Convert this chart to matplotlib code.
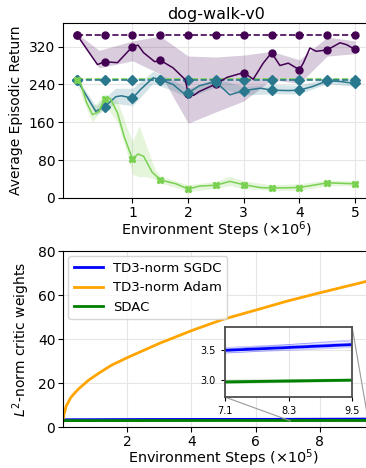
import numpy as np
import matplotlib
matplotlib.use('Agg')
import matplotlib.pyplot as plt
from mpl_toolkits.axes_grid1.inset_locator import mark_inset

# ---- top panel: dog-walk-v0 ----
purple_x = [0, 0.37, 0.5, 0.73, 1.0, 1.1, 1.2, 1.4, 1.5, 1.73, 1.95, 2.0, 2.1, 2.2, 2.5, 2.7, 3.0,
            3.17, 3.35, 3.5, 3.65, 3.8, 4.0, 4.07, 4.19, 4.3, 4.5, 4.73, 4.85, 5.0]
purple_y = [345, 282, 288, 286, 320, 323, 307, 288, 291, 275, 250, 220, 217, 225, 241, 255, 265,
            251, 285, 307, 280, 285, 271, 285, 317, 310, 313, 328, 324, 314]
purple_bx = [0, 0.4, 1.0, 1.5, 2.0, 2.5, 3.0, 3.5, 4.0, 4.5, 5.0]
purple_hi = [348, 312, 332, 342, 300, 298, 302, 310, 292, 340, 332]
purple_lo = [342, 275, 290, 262, 158, 182, 205, 250, 242, 300, 305]

teal_x = [0, 0.34, 0.5, 0.7, 0.8, 1.0, 1.15, 1.37, 1.5, 1.73, 1.9, 2.0, 2.2, 2.45, 2.5, 2.75,
          3.0, 3.3, 3.5, 3.8, 4.0, 4.25, 4.5, 4.75, 5.0]
teal_y = [250, 183, 193, 214, 216, 211, 230, 254, 250, 240, 223, 222, 237, 245, 245, 218,
          227, 232, 228, 227, 228, 236, 248, 246, 242]
teal_bx = [0, 0.34, 0.7, 1.0, 1.37, 1.7, 2.0, 2.5, 3.0, 3.5, 4.0, 4.5, 5.0]
teal_hi = [253, 195, 232, 232, 268, 250, 232, 252, 236, 240, 238, 254, 250]
teal_lo = [247, 175, 200, 195, 242, 228, 212, 235, 218, 220, 220, 242, 236]

green_x = [0, 0.06, 0.17, 0.28, 0.4, 0.5, 0.6, 0.73, 0.85, 1.0, 1.1, 1.2, 1.35, 1.5, 1.78,
           2.0, 2.2, 2.5, 2.75, 3.0, 3.3, 3.5, 4.0, 4.25, 4.5, 5.0]
green_y = [250, 246, 203, 176, 183, 210, 210, 180, 130, 82, 93, 88, 55, 38, 30,
           19, 25, 27, 35, 28, 22, 21, 22, 27, 32, 30]
green_bx = [0, 0.17, 0.28, 0.5, 0.73, 0.9, 1.0, 1.12, 1.25, 1.4, 1.5, 2.0, 2.5, 2.75, 3.0, 3.5, 4.0, 4.5, 5.0]
green_hi = [262, 218, 192, 220, 205, 150, 120, 152, 110, 62, 46, 28, 35, 46, 36, 28, 30, 38, 36]
green_lo = [240, 190, 160, 198, 160, 95, 50, 45, 45, 40, 32, 14, 20, 26, 20, 16, 16, 26, 26]

mark_x = [0, 0.5, 1, 1.5, 2, 2.5, 3, 3.5, 4, 4.5, 5]
purple_ref = 345
teal_ref = 250
green_ref = 252

# ---- bottom panel: critic weight norms ----
adam_x = [0, 0.03, 0.1, 0.24, 0.35, 0.5, 0.8, 1.12, 1.5, 2.0, 3.0, 4.04, 5.0, 6.02, 7.0, 8.0, 9.4, 10.0]
adam_y = [2.5, 5.5, 9.5, 13.3, 15.2, 17.5, 21.3, 24.5, 28.0, 31.5, 38.0, 44.0, 49.0, 53.2, 57.3, 61.0, 66.0, 68.0]
steps = [0, 2.0, 4.0, 7.1, 8.3, 9.5, 10.0]
sgdc_mean = [3.3, 3.4, 3.45, 3.5, 3.55, 3.6, 3.61]
sdac_mean = [2.9, 2.92, 2.94, 2.96, 2.975, 2.99, 2.99]
sgdc_runs = [[3.3, 3.4, 3.46, 3.55, 3.6, 3.66, 3.67],
             [3.3, 3.38, 3.43, 3.46, 3.5, 3.55, 3.56],
             [3.3, 3.42, 3.48, 3.53, 3.58, 3.63, 3.64],
             [3.3, 3.37, 3.42, 3.45, 3.52, 3.57, 3.58],
             [3.3, 3.41, 3.47, 3.52, 3.6, 3.68, 3.69]]
sdac_runs = [[2.9, 2.93, 2.96, 2.99, 3.0, 3.01, 3.01],
             [2.9, 2.91, 2.92, 2.93, 2.95, 2.97, 2.97],
             [2.9, 2.92, 2.95, 2.97, 2.99, 3.0, 3.0],
             [2.9, 2.91, 2.93, 2.94, 2.96, 2.98, 2.98]]

c_purple = '#440154'
c_teal = '#2a788e'
c_green = '#7ad151'

plt.rcParams['font.family'] = ['DejaVu Sans']
fig = plt.figure(figsize=(3.66, 4.68), dpi=100)

ax1 = fig.add_axes([0.172, 0.577, 0.836, 0.374])
ax1.grid(color='#e6e6e6', lw=0.8)
ax1.set_axisbelow(True)
ax1.fill_between(purple_bx, purple_lo, purple_hi, color=c_purple, alpha=0.2, lw=0)
ax1.fill_between(teal_bx, teal_lo, teal_hi, color=c_teal, alpha=0.2, lw=0)
ax1.fill_between(green_bx, green_lo, green_hi, color=c_green, alpha=0.2, lw=0)
ax1.plot(mark_x, [green_ref] * len(mark_x), '--', color=c_green, lw=1.2)
ax1.plot(mark_x, [teal_ref] * len(mark_x), '--', color=c_teal, lw=1.2, marker='D', ms=5)
ax1.plot(mark_x, [purple_ref] * len(mark_x), '--', color=c_purple, lw=1.2, marker='o', ms=5)
ax1.plot(purple_x, purple_y, color=c_purple, lw=1.1)
ax1.plot(mark_x, np.interp(mark_x, purple_x, purple_y), 'o', color=c_purple, ms=5)
ax1.plot(teal_x, teal_y, color=c_teal, lw=1.1)
ax1.plot(mark_x, np.interp(mark_x, teal_x, teal_y), 'D', color=c_teal, ms=5)
ax1.plot(green_x, green_y, color=c_green, lw=1.1)
ax1.plot(mark_x, np.interp(mark_x, green_x, green_y), 'X', color=c_green, ms=5)
ax1.set_xlim(-0.25, 5.25)
ax1.set_ylim(0, 370)
ax1.set_xticks([1, 2, 3, 4, 5])
ax1.set_yticks([0, 80, 160, 240, 320])
ax1.tick_params(labelsize=10, pad=2)
ax1.set_title('dog-walk-v0', fontsize=11.5, pad=3)
ax1.set_ylabel('Average Episodic Return', fontsize=10)
ax1.set_xlabel('Environment Steps ($\\times 10^6$)', fontsize=10.4, labelpad=0)

ax2 = fig.add_axes([0.172, 0.0876, 0.877, 0.376])
ax2.grid(color='#e6e6e6', lw=0.8)
ax2.set_axisbelow(True)
for r in sgdc_runs:
    ax2.plot(steps, r, color='blue', alpha=0.25, lw=0.6)
for r in sdac_runs:
    ax2.plot(steps, r, color='green', alpha=0.25, lw=0.6)
ax2.plot(steps, sgdc_mean, color='blue', lw=2, label='TD3-norm SGDC')
ax2.plot(adam_x, adam_y, color='orange', lw=2, label='TD3-norm Adam')
ax2.plot(steps, sdac_mean, color='green', lw=2, label='SDAC')
ax2.set_xlim(0, 10)
ax2.set_ylim(0, 80)
ax2.set_xticks([2, 4, 6, 8])
ax2.set_yticks([0, 20, 40, 60, 80])
ax2.tick_params(labelsize=10, pad=2)
ax2.set_xlabel('Environment Steps ($\\times 10^5$)', fontsize=10.4, labelpad=-1)
ax2.set_ylabel('$L^2$-norm critic weights', fontsize=10)
ax2.legend(loc='upper left', fontsize=9.5, handlelength=2.2, borderaxespad=0.4)

axins = ax2.inset_axes([0.505, 0.17, 0.396, 0.398])
for r in sgdc_runs:
    axins.plot(steps, r, color='blue', alpha=0.25, lw=0.6)
for r in sdac_runs:
    axins.plot(steps, r, color='green', alpha=0.25, lw=0.6)
axins.plot(steps, sgdc_mean, color='blue', lw=2)
axins.plot(steps, sdac_mean, color='green', lw=2)
axins.set_xlim(7.1, 9.5)
axins.set_ylim(2.7, 3.9)
axins.set_xticks([7.1, 8.3, 9.5])
axins.set_yticks([3.0, 3.5])
axins.tick_params(labelsize=7, length=3)
axins.grid(color='#e6e6e6', lw=0.8)
for s in axins.spines.values():
    s.set_color('0.3')
    s.set_linewidth(1.3)
mark_inset(ax2, axins, loc1=1, loc2=3, fc='none', ec='0.6', lw=0.8)

fig.savefig('out.png', dpi=100)
